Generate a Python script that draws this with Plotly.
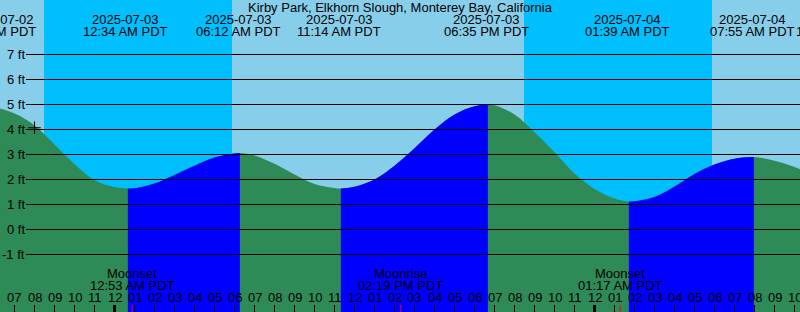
import plotly.graph_objects as go
import pandas as pd

W, H = 800, 312
T0 = pd.Timestamp("2025-07-02 18:16:30")
T1 = pd.Timestamp("2025-07-04 10:16:30")
Y_MIN, Y_MAX = -3.3, 9.18
FONT = "Liberation Sans"

# ---- tide curve (time, feet) ----
tide_times = [
    "2025-07-02 17:00", "2025-07-02 18:00", "2025-07-02 19:00", "2025-07-02 20:00",
    "2025-07-02 21:00", "2025-07-02 22:00", "2025-07-02 23:00",
    "2025-07-03 00:00", "2025-07-03 00:40", "2025-07-03 01:00", "2025-07-03 02:00",
    "2025-07-03 03:00", "2025-07-03 04:00", "2025-07-03 05:00", "2025-07-03 06:00",
    "2025-07-03 06:16", "2025-07-03 07:00", "2025-07-03 08:00", "2025-07-03 09:00",
    "2025-07-03 10:00", "2025-07-03 11:00", "2025-07-03 11:19", "2025-07-03 12:00",
    "2025-07-03 13:00", "2025-07-03 14:00", "2025-07-03 15:00", "2025-07-03 16:00",
    "2025-07-03 17:00", "2025-07-03 18:00", "2025-07-03 18:40", "2025-07-03 19:00",
    "2025-07-03 20:00", "2025-07-03 21:00", "2025-07-03 22:00", "2025-07-03 23:00",
    "2025-07-04 00:00", "2025-07-04 01:00", "2025-07-04 01:43", "2025-07-04 02:00",
    "2025-07-04 03:00", "2025-07-04 04:00", "2025-07-04 05:00", "2025-07-04 06:00",
    "2025-07-04 07:00", "2025-07-04 07:58", "2025-07-04 09:00", "2025-07-04 10:00",
    "2025-07-04 11:00", "2025-07-04 12:13",
]
tide_heights = [
    4.66, 4.85, 4.64, 4.17,
    3.40, 2.62, 1.97,
    1.70, 1.64, 1.65, 1.84,
    2.18, 2.55, 2.88, 3.04,
    3.06, 2.96, 2.63, 2.20,
    1.82, 1.66, 1.64, 1.71,
    2.00, 2.55, 3.25, 4.00,
    4.60, 4.93, 5.00, 4.97,
    4.60, 3.89, 3.09, 2.24,
    1.62, 1.24, 1.12, 1.13,
    1.30, 1.72, 2.22, 2.60,
    2.83, 2.90, 2.75, 2.50,
    2.15, 1.95,
]

# rising (flood) stretches of the curve
flood_starts = ["2025-07-03 00:40", "2025-07-03 11:19", "2025-07-04 01:43"]
flood_ends = ["2025-07-03 06:16", "2025-07-03 18:40", "2025-07-04 07:58"]

# night (sunset -> sunrise)
night_starts = ["2025-07-02 20:28:30", "2025-07-03 20:28:30"]
night_ends = ["2025-07-03 05:52:30", "2025-07-04 05:52:30"]

# tide event labels
event_times = ["2025-07-02 17:58", "2025-07-03 00:34", "2025-07-03 06:12", "2025-07-03 11:14",
               "2025-07-03 18:35", "2025-07-04 01:39", "2025-07-04 07:55", "2025-07-04 12:13"]
event_dates = ["2025-07-02", "2025-07-03", "2025-07-03", "2025-07-03",
               "2025-07-03", "2025-07-04", "2025-07-04", "2025-07-04"]
event_clock = ["05:58 PM PDT", "12:34 AM PDT", "06:12 AM PDT", "11:14 AM PDT",
               "06:35 PM PDT", "01:39 AM PDT", "07:55 AM PDT", "12:13 PM PDT"]
date_shift_px = [7, 0, 0, 0, 0, 0, 0, 0]

# moon events
moon_times = ["2025-07-03 00:53", "2025-07-03 14:19", "2025-07-04 01:17"]
moon_names = ["Moonset", "Moonrise", "Moonset"]
moon_clock = ["12:53 AM PDT", "02:19 PM PDT", "01:17 AM PDT"]

# hour ticks
hour_times = pd.date_range("2025-07-02 19:00", "2025-07-04 10:00", freq="h")
hour_labels = ["07", "08", "09", "10", "11",
               "12", "01", "02", "03", "04", "05", "06", "07", "08", "09", "10", "11",
               "12", "01", "02", "03", "04", "05", "06", "07", "08", "09", "10", "11",
               "12", "01", "02", "03", "04", "05", "06", "07", "08", "09", "10"]
midnights = ["2025-07-03 00:00", "2025-07-04 00:00"]

# level lines
level_values = [7, 6, 5, 4, 3, 2, 1, 0, -1]
level_labels = ["7 ft", "6 ft", "5 ft", "4 ft", "3 ft", "2 ft", "1 ft", "0 ft", "-1 ft"]

# mark
mark_time = ["2025-07-02 20:00"]
mark_height = [4.07]

TITLE = "Kirby Park, Elkhorn Slough, Monterey Bay, California"

SKY = "#87CEEB"
NIGHT = "#00BFFF"
EBB = "#2E8B57"
FLOOD = "#0000FF"


def frac(t):
    return (pd.Timestamp(t) - T0) / (T1 - T0)


def py(px_center):
    return 1 - px_center / H


fig = go.Figure()

# ebb (whole curve, green)
fig.add_trace(go.Scatter(x=[tide_times[0], tide_times[-1]], y=[Y_MIN - 1, Y_MIN - 1],
                         mode="lines", line=dict(width=0), hoverinfo="skip", showlegend=False))
fig.add_trace(go.Scatter(x=tide_times, y=tide_heights, mode="lines",
                         line=dict(width=0, shape="spline", simplify=False),
                         fill="tonexty", fillcolor=EBB, hoverinfo="skip", showlegend=False))

# flood parts: same curve, clipped by a sub-plot spanning only the rising stretch
for i, (s, e) in enumerate(zip(flood_starts, flood_ends)):
    n = i + 2
    fig.update_layout(**{f"xaxis{n}": dict(type="date", domain=[frac(s), frac(e)], range=[s, e],
                                            anchor="y", visible=False, fixedrange=True)})
    fig.add_trace(go.Scatter(x=[tide_times[0], tide_times[-1]], y=[Y_MIN - 1, Y_MIN - 1],
                             xaxis=f"x{n}", yaxis="y", mode="lines", line=dict(width=0),
                             hoverinfo="skip", showlegend=False))
    fig.add_trace(go.Scatter(x=tide_times, y=tide_heights, xaxis=f"x{n}", yaxis="y", mode="lines",
                             line=dict(width=0, shape="spline", simplify=False),
                             fill="tonexty", fillcolor=FLOOD, hoverinfo="skip", showlegend=False))

# "+" mark
fig.add_trace(go.Scatter(x=mark_time, y=mark_height, mode="markers",
                         marker=dict(symbol="cross-thin", size=9,
                                     line=dict(width=1, color="black")),
                         hoverinfo="skip", showlegend=False))

shapes = []
for s, e in zip(night_starts, night_ends):
    shapes.append(dict(type="rect", xref="x", yref="paper", x0=s, x1=e, y0=0, y1=1,
                       fillcolor=NIGHT, line=dict(width=0), layer="below"))
for v in level_values:
    shapes.append(dict(type="line", xref="paper", yref="y", x0=26 / W, x1=1, y0=v, y1=v,
                       line=dict(color="black", width=1), layer="above"))
for t in hour_times:
    shapes.append(dict(type="line", xref="x", yref="paper", x0=t, x1=t, y0=0, y1=7 / H,
                       line=dict(color="black", width=1), layer="above"))
for t in midnights:
    shapes.append(dict(type="line", xref="x", yref="paper", x0=t, x1=t, y0=0, y1=7 / H,
                       line=dict(color="black", width=3), layer="above"))
for t in moon_times:
    shapes.append(dict(type="line", xref="x", yref="paper", x0=t, x1=t, y0=0, y1=7 / H,
                       line=dict(color="red", width=1), layer="above"))

font = dict(family=FONT, size=13, color="black")
ann = []
ann.append(dict(text=TITLE, xref="paper", yref="paper", x=0.5, y=py(7.0),
                xanchor="center", yanchor="middle", showarrow=False, font=font))
for t, d, c, sh in zip(event_times, event_dates, event_clock, date_shift_px):
    ann.append(dict(text=d, xref="paper", yref="paper", x=frac(t), y=py(19.5), xshift=sh,
                    xanchor="center", yanchor="middle", showarrow=False, font=font))
    ann.append(dict(text=c, xref="paper", yref="paper", x=frac(t), y=py(31.5),
                    xanchor="center", yanchor="middle", showarrow=False, font=font))
for t, nm, c in zip(moon_times, moon_names, moon_clock):
    ann.append(dict(text=nm, xref="paper", yref="paper", x=frac(t), y=py(273.8),
                    xanchor="center", yanchor="middle", showarrow=False, font=font))
    ann.append(dict(text=c, xref="paper", yref="paper", x=frac(t), y=py(285.5),
                    xanchor="center", yanchor="middle", showarrow=False, font=font))
for t, lab in zip(hour_times, hour_labels):
    ann.append(dict(text=lab, xref="paper", yref="paper", x=frac(t), y=py(297.2),
                    xanchor="center", yanchor="middle", showarrow=False, font=font))
for v, lab in zip(level_values, level_labels):
    ann.append(dict(text=lab, xref="paper", yref="y", x=26.5 / W, y=v,
                    xanchor="right", yanchor="middle", showarrow=False, font=font))

fig.update_layout(
    width=W, height=H, autosize=False,
    margin=dict(l=0, r=0, t=0, b=0, pad=0),
    paper_bgcolor=SKY, plot_bgcolor="rgba(0,0,0,0)",
    xaxis=dict(type="date", range=[T0, T1], domain=[0, 1], visible=False, fixedrange=True),
    yaxis=dict(range=[Y_MIN, Y_MAX], domain=[0, 1], visible=False, fixedrange=True),
    shapes=shapes, annotations=ann, showlegend=False,
    font=font,
)

fig.write_html("out.html", config={"displayModeBar": False, "staticPlot": True})
